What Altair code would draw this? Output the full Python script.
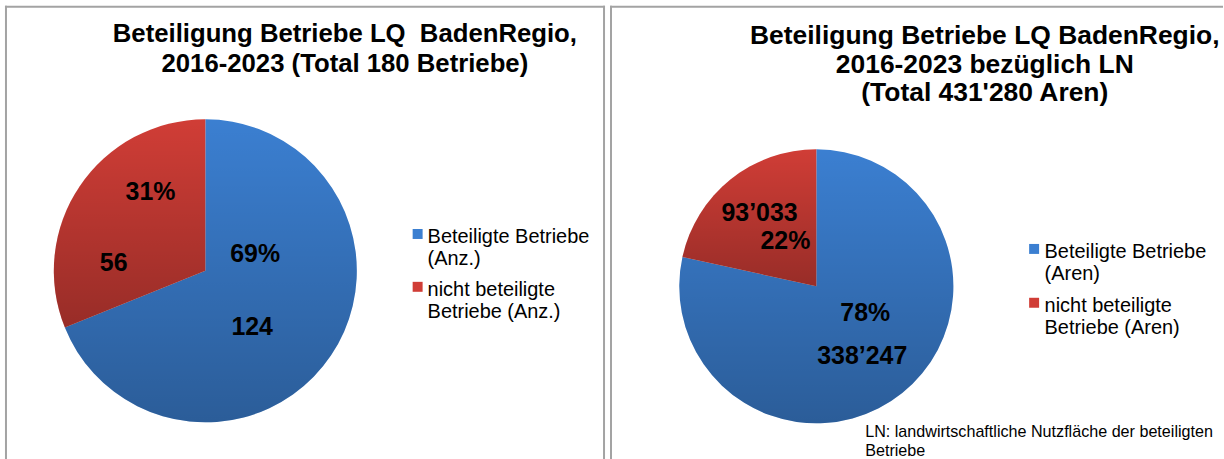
import altair as alt
import pandas as pd

# ---------------- data ----------------
cats = ["Beteiligte Betriebe", "nicht beteiligte Betriebe"]
left_values = [124, 56]
right_values = [338247, 93033]
left_legend = ["Beteiligte Betriebe\n(Anz.)", "nicht beteiligte\nBetriebe (Anz.)"]
right_legend = ["Beteiligte Betriebe\n(Aren)", "nicht beteiligte\nBetriebe (Aren)"]
left_title = "Beteiligung Betriebe LQ\u00a0 BadenRegio,\n2016-2023 (Total 180 Betriebe)"
right_title = "Beteiligung Betriebe LQ BadenRegio,\n2016-2023 bezüglich LN\n(Total 431'280 Aren)"
footnote = "LN: landwirtschaftliche Nutzfläche der beteiligten\nBetriebe"
colors = ["#3b7fd1", "#d03d36"]

FONT = "Liberation Sans"
BORDER = "#a3a3a3"


def make_df(values, legend):
    total = sum(values)
    return pd.DataFrame({
        "cat": cats,
        "order": list(range(len(values))),
        "value": values,
        "pct": [f"{round(v / total * 100)}%" for v in values],
        "val": [f"{v:,}".replace(",", "\u2019") for v in values],
        "legend": legend,
    })


shade = alt.LinearGradient(
    gradient="linear",
    stops=[alt.GradientStop(color="rgba(0,0,0,0)", offset=0),
           alt.GradientStop(color="rgba(0,0,0,0.27)", offset=1)],
    x1=0, x2=0, y1=0, y2=1,
)

color_scale = alt.Scale(domain=cats, range=colors)


def panel(values, legend, title, width, height, cx, cy, radius, labels,
          title_x, title_y, title_lh, title_size, sq_x, sq_ys, tx, text_dy,
          right_border, note=None):
    df = make_df(values, legend)
    base = alt.Chart(df).transform_window(
        v1="sum(value)", sort=[alt.SortField("order")], frame=[None, 0]
    ).transform_calculate(
        v0="datum.v1 - datum.value", mid="datum.v1 - datum.value / 2"
    )
    theta_scale = alt.Scale(domain=[0, sum(values)])
    arc = base.mark_arc(radius=radius).encode(
        theta=alt.Theta("v0:Q", scale=theta_scale, stack=False),
        theta2="v1:Q",
        color=alt.Color("cat:N", scale=color_scale, legend=None),
        x=alt.value(cx), y=alt.value(cy),
    )
    arc_shade = base.mark_arc(radius=radius, fill=shade).encode(
        theta=alt.Theta("v0:Q", scale=theta_scale, stack=False),
        theta2="v1:Q",
        x=alt.value(cx), y=alt.value(cy),
    )
    layers = [arc, arc_shade]
    for order, kind, r, dx, dy in labels:
        layers.append(
            base.transform_filter(f"datum.order == {order}").mark_text(
                radius=r, dx=dx, dy=dy, fontSize=25, fontWeight="bold",
                font=FONT, color="black", baseline="middle", align="center",
            ).encode(
                theta=alt.Theta("mid:Q", scale=theta_scale, stack=False),
                text=f"{kind}:N",
                x=alt.value(cx), y=alt.value(cy),
            )
        )
    ysc = alt.Y("cat:N", sort=cats, axis=None,
                scale=alt.Scale(domain=cats, range=sq_ys, padding=0))
    layers.append(alt.Chart(df).mark_square(size=100, opacity=1).encode(
        x=alt.value(sq_x), y=ysc,
        color=alt.Color("cat:N", scale=color_scale, legend=None),
    ))
    layers.append(alt.Chart(df).mark_text(
        align="left", baseline="top", lineBreak="\n", lineHeight=22.5,
        fontSize=20, font=FONT, color="black", dy=text_dy,
    ).encode(x=alt.value(tx), y=ysc, text="legend:N"))
    layers.append(alt.Chart(pd.DataFrame({"t": [title]})).mark_text(
        align="center", baseline="top", lineBreak="\n", lineHeight=title_lh,
        fontSize=title_size, fontWeight="bold", font=FONT, color="black",
    ).encode(x=alt.value(title_x), y=alt.value(title_y), text="t:N"))
    if note is not None:
        layers.append(alt.Chart(pd.DataFrame({"t": [note]})).mark_text(
            align="left", baseline="top", lineBreak="\n", lineHeight=19,
            fontSize=16.2, font=FONT, color="black",
        ).encode(x=alt.value(256), y=alt.value(420), text="t:N"))
    one = pd.DataFrame({"a": [0]})
    layers.append(alt.Chart(one).mark_rule(color=BORDER, strokeWidth=2).encode(
        x=alt.value(1), y=alt.value(0), y2=alt.value(height)))
    layers.append(alt.Chart(one).mark_rule(color=BORDER, strokeWidth=2).encode(
        y=alt.value(1), x=alt.value(0), x2=alt.value(width)))
    if right_border:
        layers.append(alt.Chart(one).mark_rule(color=BORDER, strokeWidth=2).encode(
            x=alt.value(width - 1), y=alt.value(0), y2=alt.value(height)))
    return alt.layer(*layers).properties(width=width, height=height)


left = panel(
    left_values, left_legend, left_title, 602, 455, 201, 266, 152,
    [(1, "pct", 85, 15.5, -31.5), (1, "val", 85, -21.5, 39.5),
     (0, "pct", 55, 4.4, -47.7), (0, "val", 55, 1.4, 25.3)],
    341, 16, 30, 25.8, 414, [229, 282], 424, -7, True,
)
right = panel(
    right_values, right_legend, right_title, 615, 455, 207, 281.5, 137.5,
    [(1, "val", 74, -10.6, -15.9), (1, "pct", 74, 15.4, 12.1),
     (0, "pct", 68, 6.4, -26.5), (0, "val", 68, 3.4, 16.5)],
    376, 17, 29, 26.5, 425.5, [244, 298], 436, -7, False, note=footnote,
)

chart = alt.hconcat(left, right, spacing=3).resolve_scale(
    theta="independent", y="independent"
).properties(
    padding={"left": 4, "top": 4, "right": 0, "bottom": 0},
    background="white",
).configure_view(strokeWidth=0)

chart.save("out.html", embed_options={"renderer": "svg", "actions": False})
